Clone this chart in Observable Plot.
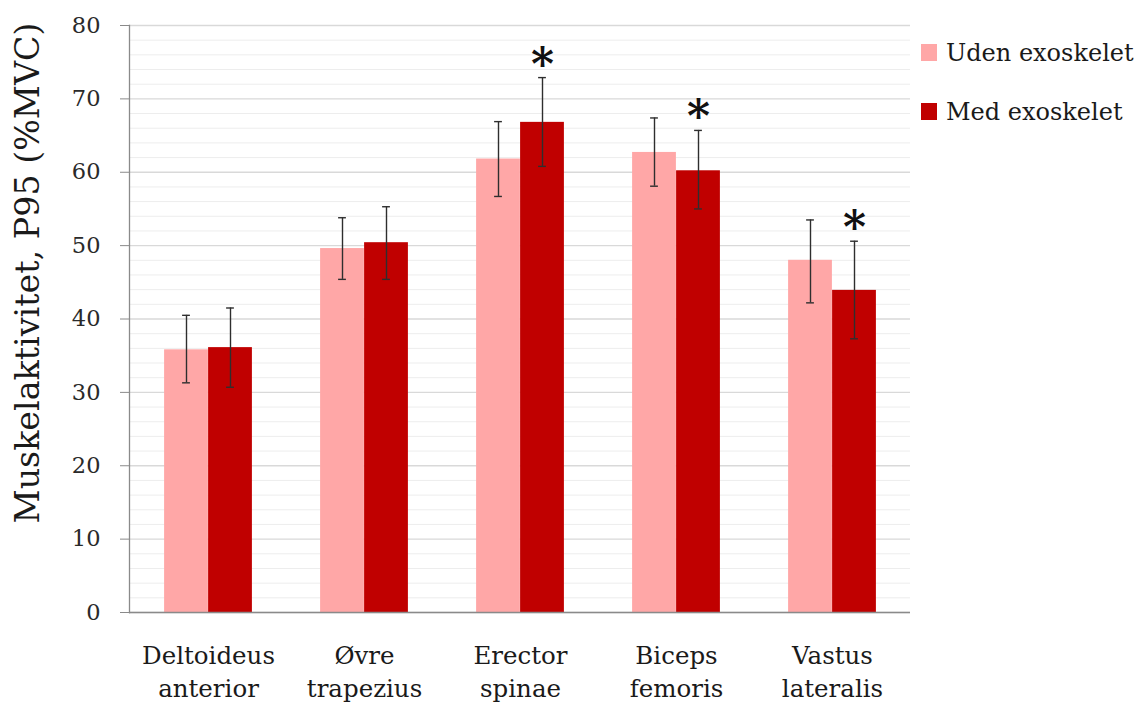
<!DOCTYPE html>
<html>
<head>
<meta charset="utf-8">
<script src="https://cdn.jsdelivr.net/npm/d3@7"></script>
<script src="https://cdn.jsdelivr.net/npm/@observablehq/plot@0.6"></script>
<style>
  html, body { margin: 0; padding: 0; background: #fff; }
  #wrap { position: relative; width: 1138px; height: 703px; font-family: "DejaVu Serif", serif; }
  #wrap svg { position: absolute; left: 0; top: 0; }
  .legend { position: absolute; left: 921px; top: 40px; }
  .legend .row { display: flex; align-items: center; height: 25px; margin-bottom: 34px; font-size: 24px; color: #1a1a1a; white-space: nowrap; }
  .legend .sw { width: 16px; height: 17px; margin-right: 9px; flex: none; }
</style>
</head>
<body>
<div id="wrap"></div>
<script>
// Muscles measured and the two test conditions
const muscles = ["Deltoideus anterior", "Øvre trapezius", "Erector spinae", "Biceps femoris", "Vastus lateralis"];
const conditions = ["Uden exoskelet", "Med exoskelet"];
const colors = ["#ffa7a7", "#c00000"];
const yTitle = "Muskelaktivitet, P95 (%MVC)";

// P95 muscle activity (%MVC): means and error-bar limits
const udenMean = [35.8, 49.6, 61.8, 62.7, 48.0];
const udenLow  = [31.3, 45.4, 56.7, 58.1, 42.2];
const udenHigh = [40.5, 53.8, 66.9, 67.4, 53.5];
const medMean  = [36.1, 50.4, 66.8, 60.2, 43.9];
const medLow   = [30.7, 45.4, 60.8, 55.0, 37.3];
const medHigh  = [41.5, 55.3, 72.9, 65.7, 50.6];
// Significant difference with the exoskeleton
const medSignificant = [false, false, true, true, true];

const yTicks = [0, 10, 20, 30, 40, 50, 60, 70, 80];
const yMinor = d3.range(2, 80, 2).filter(v => v % 10 !== 0);

const rows = muscles.flatMap((m, i) => [
  {muscle: m, condition: conditions[0], mean: udenMean[i], low: udenLow[i], high: udenHigh[i], sig: false},
  {muscle: m, condition: conditions[1], mean: medMean[i], low: medLow[i], high: medHigh[i], sig: medSignificant[i]}
]);

const width = 1138, height = 703;
const marginLeft = 129, marginRight = 228, marginTop = 25, marginBottom = 91;
const band = (width - marginLeft - marginRight) / muscles.length;
const barW = 44, capW = 8;

// Per-condition placement inside each muscle band
const sides = [
  {cond: conditions[0], insetLeft: band / 2 - barW, insetRight: band / 2, dx: -barW / 2},
  {cond: conditions[1], insetLeft: band / 2, insetRight: band / 2 - barW, dx: barW / 2}
];

const marks = [
  Plot.gridY(yMinor, {stroke: "#ededed", strokeOpacity: 1}),
  Plot.gridY(yTicks, {stroke: "#d9d9d9", strokeOpacity: 1, strokeWidth: 1.4}),
  ...sides.map(s => Plot.barY(rows.filter(d => d.condition === s.cond), {
    x: "muscle", y: "mean", fill: "condition",
    insetLeft: s.insetLeft, insetRight: s.insetRight
  })),
  ...sides.map(s => Plot.ruleX(rows.filter(d => d.condition === s.cond), {
    x: "muscle", y1: "low", y2: "high", dx: s.dx, stroke: "#2e2e2e", strokeWidth: 1.4
  })),
  ...sides.flatMap(s => ["low", "high"].map(k => Plot.tickY(rows.filter(d => d.condition === s.cond), {
    x: "muscle", y: k, dx: s.dx, stroke: "#2e2e2e", strokeWidth: 1.4,
    insetLeft: band / 2 - capW / 2, insetRight: band / 2 - capW / 2
  }))),
  Plot.text(rows.filter(d => d.sig), {
    x: "muscle", y: "high", text: () => "*", dx: barW / 2, dy: 2,
    lineAnchor: "bottom", fontSize: 44, fontWeight: "bold", fill: "#111"
  }),
  Plot.ruleY([0], {stroke: "#8a8a8a", strokeWidth: 1.3}),
  Plot.frame({anchor: "left", stroke: "#8a8a8a", strokeWidth: 1.3}),
  Plot.axisY(yTicks, {
    tickSize: 9, tickPadding: 20, fontSize: 22.5, stroke: "#8a8a8a", fill: "#2a2a2a", label: null
  }),
  // Rotated y-axis title, sitting a little above the frame's middle
  Plot.text([yTitle], {
    frameAnchor: "left", rotate: -90, dx: -101, dy: -46,
    textAnchor: "middle", lineAnchor: "middle", fontSize: 33.3, fill: "#1a1a1a"
  }),
  Plot.axisX({
    tickSize: 0, tickPadding: 28, fontSize: 24.5, lineHeight: 1.35, fill: "#1a1a1a",
    tickFormat: d => d.replace(" ", "\n"), label: null
  })
];

const chart = Plot.plot({
  width, height, marginLeft, marginRight, marginTop, marginBottom,
  style: {fontFamily: "DejaVu Serif, serif", background: "#fff", overflow: "visible"},
  x: {type: "band", domain: muscles, padding: 0},
  y: {domain: [0, 80]},
  color: {domain: conditions, range: colors},
  marks
});

const wrap = document.getElementById("wrap");
wrap.appendChild(chart);

// Legend on the right side of the plot
const legend = document.createElement("div");
legend.className = "legend";
conditions.forEach((c, i) => {
  const row = document.createElement("div");
  row.className = "row";
  const sw = document.createElement("span");
  sw.className = "sw";
  sw.style.background = colors[i];
  const label = document.createElement("span");
  label.textContent = c;
  row.append(sw, label);
  legend.appendChild(row);
});
wrap.appendChild(legend);
</script>
</body>
</html>
